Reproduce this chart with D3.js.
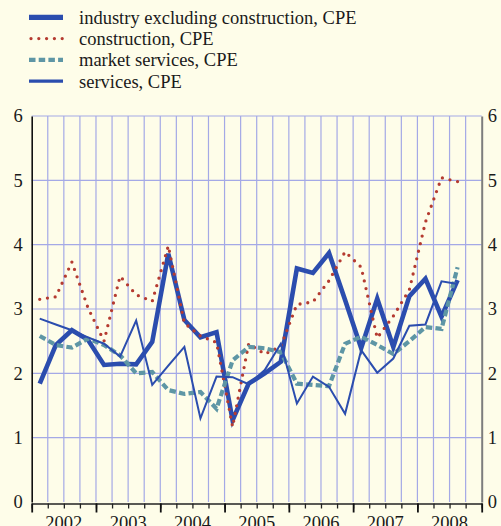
<!DOCTYPE html>
<html>
<head>
<meta charset="utf-8">
<script src="https://cdn.jsdelivr.net/npm/d3@7"></script>
<style>
  html, body { margin: 0; padding: 0; background: #fefde9; }
  svg { display: block; }
  text { font-family: "Liberation Serif", "Times New Roman", serif; fill: #1a1a1a; }
</style>
</head>
<body>
<div class="chart"></div>
<script>
// quarterly data, 2002Q1 .. 2008Q3
var years = [2002, 2003, 2004, 2005, 2006, 2007, 2008];
var yTicks = [0, 1, 2, 3, 4, 5, 6];

var industry = [1.84, 2.44, 2.67, 2.52, 2.13, 2.15, 2.14, 2.49, 3.86, 2.83, 2.56, 2.64, 1.27, 1.84,
                2.00, 2.18, 3.63, 3.56, 3.87, 3.14, 2.39, 3.16, 2.41, 3.20, 3.47, 2.88, 3.45];
var construction = [3.15, 3.19, 3.73, 3.02, 2.50, 3.51, 3.22, 3.12, 3.98, 2.78, 2.58, 2.48, 1.17, 2.46,
                    2.30, 2.42, 3.07, 3.11, 3.44, 3.89, 3.65, 2.55, 2.89, 3.30, 4.35, 5.04, 4.98];
var marketServices = [2.58, 2.44, 2.40, 2.54, 2.44, 2.28, 2.00, 2.02, 1.74, 1.68, 1.71, 1.45, 2.20, 2.41,
                      2.39, 2.33, 1.84, 1.82, 1.80, 2.46, 2.57, 2.44, 2.30, 2.50, 2.72, 2.69, 3.65];
var services = [2.85, 2.76, 2.67, 2.56, 2.46, 2.26, 2.82, 1.82, 2.12, 2.41, 1.30, 1.95, 1.94, 1.83,
                2.05, 2.46, 1.53, 1.95, 1.79, 1.37, 2.36, 2.01, 2.23, 2.74, 2.76, 3.43, 3.39];

var seriesNames = ['industry excluding construction, CPE', 'construction, CPE', 'market services, CPE', 'services, CPE'];

var width = 501, height = 526;
var plotL = 31.7, plotR = 481.7, plotT = 116, plotB = 502;
var fontSize = '18.5px';

var series = [
  { name: seriesNames[0], values: industry,       color: '#2b4dae', w: 4.6, dash: null,      legW: 5.3 },
  { name: seriesNames[1], values: construction,   color: '#b53b30', w: 3.3, dash: '0 7.8',   legW: 3.3, cap: 'round' },
  { name: seriesNames[2], values: marketServices, color: '#5e96a5', w: 4.2, dash: '6.5 3.2', legW: 4.2 },
  { name: seriesNames[3], values: services,       color: '#2b4dae', w: 2.0, dash: null,      legW: 3.2 }
];

var svg = d3.select('.chart')
            .append('svg')
            .attr('width', width)
            .attr('height', height)
            .style('background', '#fefde9');

var nQ = years.length * 4;
var xq = d3.scaleLinear().domain([0, nQ]).range([plotL, plotR]);
var xYear = d3.scaleBand().domain(years).range([plotL, plotR]);
var y = d3.scaleLinear().domain([0, 6]).range([plotB, plotT]);

// grid
svg.append('g').selectAll('line')
   .data(d3.range(1, nQ))
   .enter().append('line')
   .attr('x1', function(d){ return xq(d); })
   .attr('x2', function(d){ return xq(d); })
   .attr('y1', plotT).attr('y2', plotB)
   .attr('stroke', '#a4a9e6').attr('stroke-width', 1.2);

svg.append('g').selectAll('line')
   .data(yTicks.slice(1))
   .enter().append('line')
   .attr('x1', plotL).attr('x2', plotR)
   .attr('y1', function(d){ return y(d); })
   .attr('y2', function(d){ return y(d); })
   .attr('stroke', '#a4a9e6').attr('stroke-width', 1.2);

// y axes (labels only)
var yl = svg.append('g')
   .attr('transform', 'translate(' + plotL + ',0)')
   .call(d3.axisLeft(y).tickValues(yTicks).tickSize(0).tickPadding(9).tickFormat(d3.format('d')));
yl.select('.domain').attr('stroke', '#111').attr('stroke-width', 1.6);
yl.selectAll('text').style('font-size', fontSize).style('font-family', '"Liberation Serif", serif').attr('fill', '#1a1a1a');

var yr = svg.append('g')
   .attr('transform', 'translate(' + plotR + ',0)')
   .call(d3.axisRight(y).tickValues(yTicks).tickSize(0).tickPadding(6).tickFormat(d3.format('d')));
yr.select('.domain').attr('stroke', '#7d7d7d').attr('stroke-width', 2);
yr.selectAll('text').style('font-size', fontSize).style('font-family', '"Liberation Serif", serif').attr('fill', '#1a1a1a');

// x axis: quarter ticks, longer year ticks
var xa = svg.append('g')
   .attr('transform', 'translate(0,' + (plotB + 1.5) + ')')
   .call(d3.axisBottom(xq).tickValues(d3.range(0, nQ + 1)).tickSize(5).tickSizeOuter(0).tickFormat(''));
xa.select('.domain').attr('stroke', '#222').attr('stroke-width', 1.5);
xa.selectAll('.tick line').attr('stroke', '#222').attr('stroke-width', 1.3);

var xy = svg.append('g')
   .attr('transform', 'translate(0,' + (plotB + 1.5) + ')')
   .call(d3.axisBottom(xq).tickValues(d3.range(0, nQ + 1, 4)).tickSize(9).tickSizeOuter(0).tickFormat(''));
xy.select('.domain').remove();
xy.selectAll('.tick line').attr('stroke', '#111').attr('stroke-width', 1.8);

svg.append('g').selectAll('text')
   .data(years)
   .enter().append('text')
   .attr('x', function(d){ return xYear(d) + xYear.bandwidth() / 2; })
   .attr('y', 529)
   .attr('text-anchor', 'middle')
   .style('font-size', fontSize)
   .text(function(d){ return d; });

// lines
var line = d3.line()
   .x(function(d, i){ return xq(i + 0.5); })
   .y(function(d){ return y(d); });

svg.append('g').selectAll('path')
   .data(series)
   .enter().append('path')
   .attr('d', function(s){ return line(s.values); })
   .attr('fill', 'none')
   .attr('stroke', function(s){ return s.color; })
   .attr('stroke-width', function(s){ return s.w; })
   .attr('stroke-dasharray', function(s){ return s.dash; })
   .attr('stroke-linecap', function(s){ return s.cap || 'butt'; })
   .attr('stroke-linejoin', 'miter');

// legend
var leg = svg.append('g').selectAll('g')
   .data(series)
   .enter().append('g')
   .attr('transform', function(d, i){ return 'translate(29,' + (17.3 + i * 21.3) + ')'; });

leg.append('line')
   .attr('x1', function(s){ return s.cap ? 2 : 0; })
   .attr('x2', 34)
   .attr('stroke', function(s){ return s.color; })
   .attr('stroke-width', function(s){ return s.legW; })
   .attr('stroke-dasharray', function(s){ return s.dash; })
   .attr('stroke-linecap', function(s){ return s.cap || 'butt'; });

leg.append('text')
   .attr('x', 50)
   .attr('y', 6.5)
   .style('font-size', fontSize)
   .text(function(s){ return s.name; });
</script>
</body>
</html>
